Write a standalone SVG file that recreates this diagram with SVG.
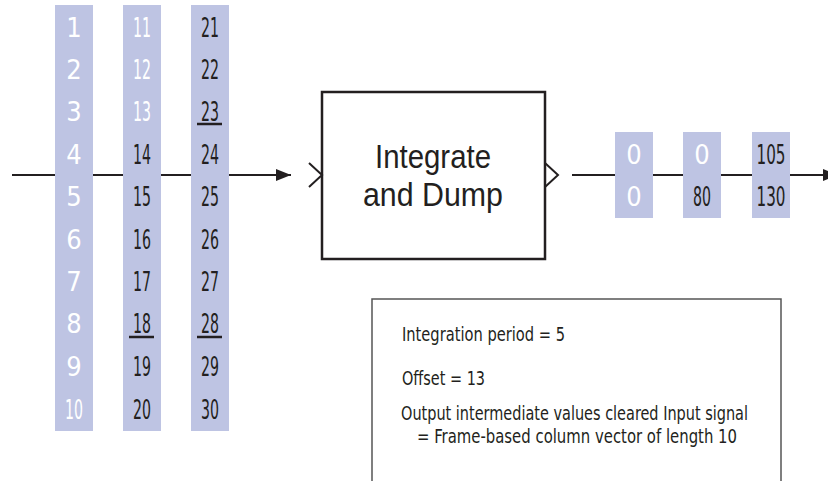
<svg xmlns="http://www.w3.org/2000/svg" width="828" height="481" viewBox="0 0 828 481">
<style>
.col{fill:#bec4e3}
.n{font-family:"DejaVu Sans Condensed","DejaVu Sans",sans-serif;font-stretch:condensed;font-size:27px;text-anchor:middle}
.w{fill:#ffffff}
.d{fill:#231f20}
.ul{stroke:#231f20;stroke-width:2.5}
.wire{stroke:#231f20;stroke-width:2;fill:none}
.t{font-family:"DejaVu Sans Condensed","DejaVu Sans",sans-serif;font-stretch:condensed;font-size:19px;fill:#231f20}
.big{font-family:"Liberation Sans","Arial",sans-serif;font-size:33px;fill:#231f20;text-anchor:middle}
</style>
<defs>
<marker id="arr" markerUnits="userSpaceOnUse" markerWidth="15" markerHeight="12" refX="15" refY="6" orient="auto" viewBox="0 0 15 12">
<path d="M0,0 L15,6 L0,12 z" fill="#231f20"/>
</marker>
</defs>
<rect width="828" height="481" fill="#ffffff"/>
<g id="connectors">
<line class="wire" x1="12" y1="175" x2="291" y2="175" marker-end="url(#arr)"/>
<line class="wire" x1="572" y1="175" x2="838" y2="175" marker-end="url(#arr)"/>
</g>
<g id="input-col-1">
<rect class="col" x="55" y="5" width="38" height="426"/>
<text class="n w" x="74" y="37">1</text>
<text class="n w" x="74" y="79">2</text>
<text class="n w" x="74" y="121">3</text>
<text class="n w" x="74" y="164">4</text>
<text class="n w" x="74" y="206">5</text>
<text class="n w" x="74" y="249">6</text>
<text class="n w" x="74" y="291">7</text>
<text class="n w" x="74" y="333">8</text>
<text class="n w" x="74" y="376">9</text>
<text class="n w" x="74" y="419" textLength="18" lengthAdjust="spacingAndGlyphs">10</text>
</g>
<g id="input-col-2">
<rect class="col" x="123" y="5" width="38" height="426"/>
<text class="n w" x="142" y="37" textLength="18" lengthAdjust="spacingAndGlyphs">11</text>
<text class="n w" x="142" y="79" textLength="18" lengthAdjust="spacingAndGlyphs">12</text>
<text class="n w" x="142" y="121" textLength="18" lengthAdjust="spacingAndGlyphs">13</text>
<text class="n d" x="142" y="164" textLength="18" lengthAdjust="spacingAndGlyphs">14</text>
<text class="n d" x="142" y="206" textLength="18" lengthAdjust="spacingAndGlyphs">15</text>
<text class="n d" x="142" y="249" textLength="18" lengthAdjust="spacingAndGlyphs">16</text>
<text class="n d" x="142" y="291" textLength="18" lengthAdjust="spacingAndGlyphs">17</text>
<text class="n d" x="142" y="333" textLength="18" lengthAdjust="spacingAndGlyphs">18</text>
<line class="ul" x1="129" y1="337" x2="154" y2="337"/>
<text class="n d" x="142" y="376" textLength="18" lengthAdjust="spacingAndGlyphs">19</text>
<text class="n d" x="142" y="419" textLength="18" lengthAdjust="spacingAndGlyphs">20</text>
</g>
<g id="input-col-3">
<rect class="col" x="191" y="5" width="38" height="426"/>
<text class="n d" x="210" y="37" textLength="18" lengthAdjust="spacingAndGlyphs">21</text>
<text class="n d" x="210" y="79" textLength="18" lengthAdjust="spacingAndGlyphs">22</text>
<text class="n d" x="210" y="121" textLength="18" lengthAdjust="spacingAndGlyphs">23</text>
<line class="ul" x1="197" y1="124" x2="222" y2="124"/>
<text class="n d" x="210" y="164" textLength="18" lengthAdjust="spacingAndGlyphs">24</text>
<text class="n d" x="210" y="206" textLength="18" lengthAdjust="spacingAndGlyphs">25</text>
<text class="n d" x="210" y="249" textLength="18" lengthAdjust="spacingAndGlyphs">26</text>
<text class="n d" x="210" y="291" textLength="18" lengthAdjust="spacingAndGlyphs">27</text>
<text class="n d" x="210" y="333" textLength="18" lengthAdjust="spacingAndGlyphs">28</text>
<line class="ul" x1="197" y1="337" x2="222" y2="337"/>
<text class="n d" x="210" y="376" textLength="18" lengthAdjust="spacingAndGlyphs">29</text>
<text class="n d" x="210" y="419" textLength="18" lengthAdjust="spacingAndGlyphs">30</text>
</g>
<g id="integrate-and-dump">
<rect x="322" y="92" width="223" height="167" fill="#ffffff" stroke="#231f20" stroke-width="2.5"/>
<polyline class="wire" points="309,163 322,175 309,187"/>
<polyline class="wire" points="545,163 558,175 545,187"/>
<text class="big" x="433" y="168" textLength="116" lengthAdjust="spacingAndGlyphs">Integrate</text>
<text class="big" x="433" y="206" textLength="140" lengthAdjust="spacingAndGlyphs">and Dump</text>
</g>
<g id="output-col-1">
<rect class="col" x="615" y="132" width="38" height="86"/>
<text class="n w" x="634" y="164">0</text>
<text class="n w" x="634" y="206">0</text>
</g>
<g id="output-col-2">
<rect class="col" x="683" y="132" width="38" height="86"/>
<text class="n w" x="702" y="164">0</text>
<text class="n d" x="702" y="206" textLength="18" lengthAdjust="spacingAndGlyphs">80</text>
</g>
<g id="output-col-3">
<rect class="col" x="752" y="132" width="38" height="86"/>
<text class="n d" x="771" y="164" textLength="29" lengthAdjust="spacingAndGlyphs">105</text>
<text class="n d" x="771" y="206" textLength="29" lengthAdjust="spacingAndGlyphs">130</text>
</g>
<g id="parameters">
<path d="M372,482 V299 H781 V482" fill="none" stroke="#555555" stroke-width="1.5"/>
<text class="t" x="402" y="341" textLength="163" lengthAdjust="spacingAndGlyphs">Integration period = 5</text>
<text class="t" x="402" y="385" textLength="83" lengthAdjust="spacingAndGlyphs">Offset = 13</text>
<text class="t" x="401" y="420" textLength="347" lengthAdjust="spacingAndGlyphs">Output intermediate values cleared Input signal</text>
<text class="t" x="417" y="443" textLength="320" lengthAdjust="spacingAndGlyphs">= Frame-based column vector of length 10</text>
</g>
</svg>
